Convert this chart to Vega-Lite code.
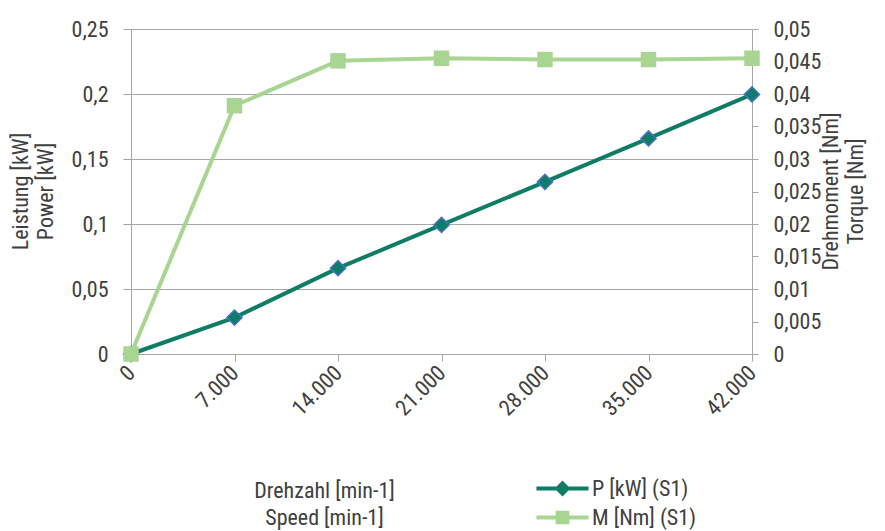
{
  "$schema": "https://vega.github.io/schema/vega-lite/v6.json",
  "width": 621,
  "height": 325,
  "autosize": "none",
  "padding": {"left": 131, "top": 29, "right": 133, "bottom": 177},
  "background": "white",
  "config": {
    "font": "'Roboto Condensed', 'DejaVu Sans Condensed', sans-serif",
    "locale": {"number": {"decimal": ",", "thousands": ".", "grouping": [3], "currency": ["", " €"]}},
    "view": {"stroke": null},
    "axis": {
      "labelFontSize": 22, "labelColor": "#404040", "titleFontSize": 22, "titleColor": "#404040",
      "titleFontWeight": "normal", "domainColor": "#A6A6A6", "tickColor": "#A6A6A6", "gridColor": "#A6A6A6",
      "domainWidth": 1, "tickWidth": 1, "gridWidth": 1
    }
  },
  "data": {"values": [
    {"speed": 0, "series": "P [kW] (S1)", "value": 0},
    {"speed": 7000, "series": "P [kW] (S1)", "value": 0.028},
    {"speed": 14000, "series": "P [kW] (S1)", "value": 0.066},
    {"speed": 21000, "series": "P [kW] (S1)", "value": 0.0993},
    {"speed": 28000, "series": "P [kW] (S1)", "value": 0.1324},
    {"speed": 35000, "series": "P [kW] (S1)", "value": 0.1658},
    {"speed": 42000, "series": "P [kW] (S1)", "value": 0.1997},
    {"speed": 0, "series": "M [Nm] (S1)", "value": 0},
    {"speed": 7000, "series": "M [Nm] (S1)", "value": 0.0382},
    {"speed": 14000, "series": "M [Nm] (S1)", "value": 0.0451},
    {"speed": 21000, "series": "M [Nm] (S1)", "value": 0.0455},
    {"speed": 28000, "series": "M [Nm] (S1)", "value": 0.0453},
    {"speed": 35000, "series": "M [Nm] (S1)", "value": 0.0453},
    {"speed": 42000, "series": "M [Nm] (S1)", "value": 0.0455}
  ]},
  "encoding": {
    "x": {
      "field": "speed", "type": "quantitative",
      "scale": {"domain": [0, 42000], "nice": false, "zero": false},
      "axis": {
        "values": [0, 7000, 14000, 21000, 28000, 35000, 42000], "format": ",d",
        "labelAngle": -45, "labelAlign": "right", "labelBaseline": "middle",
        "tickSize": 7, "labelPadding": 8, "grid": false,
        "title": ["Drehzahl [min-1]", "Speed [min-1]"], "titleLineHeight": 27,
        "titleX": 193, "titleY": 136, "titleAlign": "center", "titleBaseline": "middle", "titleAnchor": null
      }
    },
    "color": {
      "field": "series", "type": "nominal",
      "scale": {"domain": ["P [kW] (S1)", "M [Nm] (S1)"], "range": ["#0F7D66", "#A9D592"]},
      "legend": {
        "orient": "none", "legendX": 416, "legendY": 444, "title": null,
        "symbolType": "M-1.93,0H1.93", "symbolSize": 729, "symbolStrokeWidth": 4,
        "labelFontSize": 22, "labelColor": "#404040", "labelOffset": 14,
        "rowPadding": -2, "padding": 0,
        "encode": {"symbols": {"update": {
          "shape": {"signal": "datum.value === 'P [kW] (S1)' ? 'M-1.93,0H1.93M0,-0.38L0.38,0L0,0.38L-0.38,0Z' : 'M-1.93,0H1.93M-0.36,-0.36H0.36V0.36H-0.36Z'"},
          "fill": {"signal": "datum.value === 'P [kW] (S1)' ? '#0F7D66' : '#A9D592'"}
        }}}
      }
    }
  },
  "layer": [
    {
      "transform": [{"filter": "datum.series === 'P [kW] (S1)'"}],
      "encoding": {
        "y": {
          "field": "value", "type": "quantitative",
          "scale": {"domain": [0, 0.25], "nice": false},
          "axis": {
            "orient": "left", "values": [0, 0.05, 0.1, 0.15, 0.2, 0.25], "format": "~f",
            "tickSize": 8, "labelPadding": 15, "grid": true,
            "title": ["Leistung [kW]", "Power [kW]"], "titleLineHeight": 25,
            "titleAngle": -90, "titleX": -111, "titleY": 162, "titleAlign": "center", "titleBaseline": "middle"
          }
        }
      },
      "layer": [
        {"mark": {"type": "line", "strokeWidth": 4}},
        {"mark": {"type": "point", "shape": "diamond", "size": 230, "filled": true, "opacity": 1, "stroke": "#4472C4", "strokeWidth": 1.5}}
      ]
    },
    {
      "transform": [{"filter": "datum.series === 'M [Nm] (S1)'"}],
      "encoding": {
        "y": {
          "field": "value", "type": "quantitative",
          "scale": {"domain": [0, 0.05], "nice": false},
          "axis": {
            "orient": "right", "values": [0, 0.005, 0.01, 0.015, 0.02, 0.025, 0.03, 0.035, 0.04, 0.045, 0.05], "format": "~f",
            "tickSize": 6, "labelPadding": 15, "grid": false,
            "title": ["Drehmoment [Nm]", "Torque [Nm]"], "titleLineHeight": 25,
            "titleAngle": -90, "titleX": 78, "titleY": 162, "titleAlign": "center", "titleBaseline": "middle"
          }
        }
      },
      "layer": [
        {"mark": {"type": "line", "strokeWidth": 4}},
        {"mark": {"type": "point", "shape": "square", "size": 240, "filled": true, "opacity": 1}}
      ]
    }
  ],
  "resolve": {"scale": {"y": "independent"}}
}
